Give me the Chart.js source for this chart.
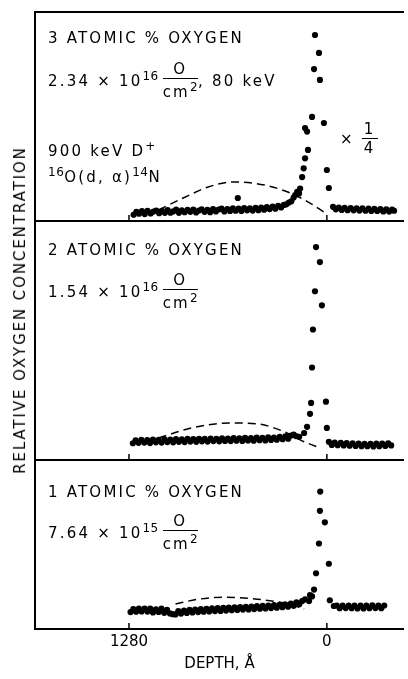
<!DOCTYPE html>
<html>
<head>
<meta charset="utf-8">
<script src="https://cdn.jsdelivr.net/npm/chart.js@4.4.1/dist/chart.umd.min.js"></script>
<style>
body { margin: 0; background: #fff; }
#fig { position: relative; width: 408px; height: 679px; overflow: hidden; font-family: 'DejaVu Sans', sans-serif; color: #000; }
#fig canvas { position: absolute; left: 0; }
.lbl { position: absolute; white-space: nowrap; font-size: 15px; letter-spacing: 2.2px; line-height: 1; }
.frac { display: inline-block; vertical-align: middle; text-align: center; margin-left: 4px; }
.frac .num { display: block; border-bottom: 1.4px solid #000; padding: 0 2px 1px; }
.frac .den { display: block; padding-top: 2px; }
sup { font-size: 12px; vertical-align: 6px; letter-spacing: 0.5px; }
#ytitle { position: absolute; left: 20px; top: 310px; transform: translate(-50%, -50%) rotate(-90deg); white-space: nowrap; font-size: 15px; letter-spacing: 1.9px; }
</style>
</head>
<body>
<div id="fig">
  <canvas id="p1" width="408"></canvas>
  <canvas id="p2" width="408"></canvas>
  <canvas id="p3" width="408"></canvas>

  <div class="lbl" style="left:48px;top:31px">3 ATOMIC % OXYGEN</div>
  <div class="lbl" style="left:48px;top:62px">2.34 × 10<sup>16</sup><span class="frac"><span class="num">O</span><span class="den">cm<sup>2</sup></span></span>, 80 keV</div>
  <div class="lbl" style="left:48px;top:140px">900 keV D<sup>+</sup></div>
  <div class="lbl" style="left:48px;top:166px"><sup>16</sup>O(d, α)<sup>14</sup>N</div>
  <div class="lbl" style="left:340px;top:122px">× <span class="frac" style="margin-left:0"><span class="num">1</span><span class="den">4</span></span></div>

  <div class="lbl" style="left:48px;top:243px">2 ATOMIC % OXYGEN</div>
  <div class="lbl" style="left:48px;top:273px">1.54 × 10<sup>16</sup><span class="frac"><span class="num">O</span><span class="den">cm<sup>2</sup></span></span></div>

  <div class="lbl" style="left:48px;top:485px">1 ATOMIC % OXYGEN</div>
  <div class="lbl" style="left:48px;top:514px">7.64 × 10<sup>15</sup><span class="frac"><span class="num">O</span><span class="den">cm<sup>2</sup></span></span></div>

  <div id="ytitle">RELATIVE OXYGEN CONCENTRATION</div>
</div>

<script>
// depth axis (angstrom), plotted right-to-left
const depthTicks = [1280, 0];

// 3 atomic % oxygen, 80 keV implant (peak region shown x 1/4)
const depth3 = [1250, 1232, 1215, 1196, 1178, 1160, 1140, 1122, 1104, 1085, 1066, 1048, 1030, 1012, 994, 975, 957, 938, 920, 901,
  883, 864, 846, 828, 810, 791, 773, 755, 736, 718, 700, 681, 663, 644, 626, 608, 590, 571, 553, 535, 516, 498, 480, 461, 443,
  425, 406, 388, 370, 351, 333, 315, 296, 278, 262, 246, 576,
  230, 215, 205, 192, 180, 173, 160, 150, 141, 122, 141, 128, 96, 77, 51, 83, 45, 19, 0, -13,
  -40, -58, -77, -96, -115, -134, -154, -173, -192, -211, -230, -250, -269, -288, -307, -326, -346, -365, -384, -403, -422, -435];
const conc3 = [3.0, 4.4, 3.5, 4.7, 3.3, 4.9, 3.6, 4.5, 5.0, 3.7, 4.8, 3.9, 5.2, 4.0, 4.6, 5.4, 3.9, 5.1, 4.2, 5.3,
  4.4, 5.5, 4.1, 5.0, 5.6, 4.4, 5.3, 4.2, 5.7, 4.6, 5.5, 5.9, 4.6, 5.7, 4.8, 6.0, 4.9, 5.9, 4.8, 6.2, 5.1, 6.1, 5.0, 6.3, 5.2,
  6.4, 5.4, 6.6, 5.7, 6.9, 5.9, 7.3, 6.5, 7.7, 8.0, 8.8, 11.0,
  9.4, 11.2, 12.4, 13.9, 13.2, 15.5, 21.0, 25.2, 30.0, 34.0, 44.5, 42.8, 49.8, 89.0, 80.4, 72.7, 67.5, 46.9, 24.4, 15.8,
  6.8, 5.6, 6.4, 5.3, 6.3, 5.2, 6.2, 5.1, 6.1, 5.0, 6.0, 4.9, 5.9, 4.8, 5.8, 4.8, 5.7, 4.6, 5.6, 4.5, 5.5, 4.9];
const fitDepth3 = [1088, 915, 768, 595, 403, 237, 109, 19];
const fitConc3 = [5.3, 11.5, 16.3, 18.7, 17.2, 13.4, 8.6, 4.3];

// 2 atomic % oxygen
const depth2 = [1255, 1237, 1218, 1200, 1181, 1162, 1144, 1125, 1106, 1088, 1069, 1050, 1032, 1013, 994, 976, 957, 938, 920, 901,
  883, 864, 845, 827, 808, 790, 771, 752, 734, 715, 696, 678, 659, 640, 622, 603, 585, 566, 547, 529, 510, 491, 473, 454, 435,
  417, 398, 380, 361, 342, 324, 305, 286, 268, 250, 232, 215, 200,
  179, 147, 128, 109, 102, 96, 90, 77, 70, 45, 32, 6, 0,
  -13, -32, -51, -70, -90, -109, -128, -147, -166, -186, -205, -224, -243, -262, -282, -301, -320, -339, -358, -378, -397, -416];
const conc2 = [7.0, 8.2, 7.2, 8.4, 7.3, 8.3, 7.1, 8.5, 7.4, 8.4, 7.3, 8.6, 7.5, 8.5, 7.4, 8.7, 7.6, 8.6, 7.5, 8.8,
  7.7, 8.7, 7.6, 8.9, 7.8, 8.8, 7.7, 9.0, 7.9, 8.9, 7.8, 9.1, 8.0, 9.0, 7.9, 9.2, 8.1, 9.1, 8.0, 9.3, 8.2, 9.2, 8.1, 9.4, 8.3,
  9.3, 8.2, 9.5, 8.4, 9.4, 8.5, 9.7, 8.7, 9.9, 8.9, 10.2, 10.6, 10.0,
  9.7, 11.3, 13.9, 19.3, 23.9, 38.7, 54.6, 70.6, 89.1, 82.8, 64.7, 24.4, 13.4,
  7.6, 6.3, 7.3, 6.2, 7.2, 6.1, 7.1, 6.0, 7.0, 5.9, 6.9, 5.8, 6.8, 5.8, 6.8, 5.7, 6.9, 5.8, 6.9, 5.9, 7.0, 6.1];
const fitDepth2 = [1088, 877, 621, 448, 275, 173, 64];
const fitConc2 = [9.2, 13.4, 15.5, 15.1, 11.8, 8.4, 5.5];

// 1 atomic % oxygen
const depth1 = [1270, 1252, 1234, 1216, 1198, 1179, 1161, 1143, 1125, 1106, 1088, 1070, 1052, 1034, 1015, 997, 979, 961, 943, 924,
  906, 888, 870, 852, 833, 815, 797, 779, 761, 743, 724, 706, 688, 670, 652, 634, 615, 597, 579, 561, 543, 524, 506, 488, 470,
  452, 433, 415, 397, 379, 361, 342, 324, 306, 288, 270, 251, 233, 215, 197, 179, 160,
  141, 115, 109, 96, 83, 70, 51, 45, 43, 13, -13, -19, -45,
  -64, -83, -102, -122, -141, -160, -179, -198, -218, -237, -256, -275, -294, -314, -333, -352, -371];
const conc1 = [10.0, 11.8, 10.2, 12.0, 10.4, 12.1, 10.3, 12.0, 9.8, 11.7, 10.1, 12.0, 9.6, 11.4, 9.2, 8.8, 8.6, 10.6, 9.1, 10.9,
  9.5, 11.3, 9.8, 11.5, 10.0, 11.8, 10.2, 11.9, 10.4, 12.2, 10.6, 12.3, 10.7, 12.5, 10.9, 12.6, 11.1, 12.8, 11.3, 13.0, 11.5, 13.1, 11.6, 13.3, 11.8,
  13.5, 12.0, 13.7, 12.2, 13.9, 12.4, 14.1, 12.6, 14.3, 12.9, 14.6, 13.2, 15.1, 13.7, 15.8, 14.6, 16.5,
  17.5, 16.5, 20.0, 19.3, 23.3, 33.0, 50.6, 69.9, 81.3, 63.1, 38.6, 17.0, 13.6,
  13.9, 12.3, 13.8, 12.4, 13.9, 12.3, 13.9, 12.2, 13.8, 12.2, 13.8, 12.3, 14.0, 12.4, 13.8, 12.3, 13.9];
const fitDepth1 = [979, 832, 659, 448, 275, 147];
const fitConc1 = [14.8, 17.6, 18.8, 17.6, 15.3, 11.9];

const pair = (xs, ys) => xs.map((x, i) => ({ x: x, y: ys[i] }));

// frame: left edge, bottom line, optional top line, and short upward ticks at 1280 and 0
const framePlugin = {
  id: 'frame',
  afterDraw(chart, args, opts) {
    const { ctx, chartArea: a, scales: { x } } = chart;
    ctx.save();
    ctx.strokeStyle = '#000';
    ctx.lineWidth = 2;
    ctx.beginPath();
    ctx.moveTo(a.left, a.top - (opts.top ? 1 : 4));
    ctx.lineTo(a.left, a.bottom);
    ctx.lineTo(a.right, a.bottom);
    if (opts.top) {
      ctx.moveTo(a.left - 1, a.top);
      ctx.lineTo(a.right, a.top);
    }
    ctx.stroke();
    ctx.lineWidth = 1.5;
    ctx.beginPath();
    depthTicks.forEach(d => {
      const px = x.getPixelForValue(d);
      ctx.moveTo(px, a.bottom);
      ctx.lineTo(px, a.bottom - 6);
    });
    ctx.stroke();
    ctx.restore();
  }
};

function makePanel(id, top, bottom, dots, fit, isFirst, isLast) {
  const canvas = document.getElementById(id);
  const pad = 4;
  canvas.style.top = (top - pad) + 'px';
  canvas.height = isLast ? 679 - (top - pad) : bottom - top + 2 * pad;

  return new Chart(canvas, {
    data: {
      datasets: [
        {
          type: 'scatter',
          data: dots,
          backgroundColor: '#000',
          borderWidth: 0,
          pointRadius: 3.1,
          clip: false
        },
        {
          type: 'line',
          data: fit,
          borderColor: '#000',
          borderWidth: 1.5,
          borderDash: [8, 5],
          pointRadius: 0,
          tension: 0.4,
          cubicInterpolationMode: 'monotone',
          fill: false,
          clip: false
        }
      ]
    },
    options: {
      responsive: false,
      animation: false,
      devicePixelRatio: 1,
      layout: { padding: { left: 35, right: 0, top: pad, bottom: isLast ? 0 : pad } },
      plugins: { legend: { display: false }, tooltip: { enabled: false }, frame: { top: isFirst } },
      scales: {
        x: {
          type: 'linear',
          reverse: true,
          min: -499,
          max: 1888,
          display: isLast,
          afterBuildTicks: scale => { scale.ticks = depthTicks.map(v => ({ value: v })); },
          grid: { display: false, drawTicks: false },
          border: { display: false },
          ticks: { color: '#000', font: { family: 'DejaVu Sans', size: 15 }, padding: 4, maxRotation: 0, callback: v => String(v) },
          title: { display: true, text: 'DEPTH, Å', color: '#000', font: { family: 'DejaVu Sans', size: 15 }, padding: { top: 0, bottom: 6 } }
        },
        y: { min: 0, max: 100, display: false }
      }
    },
    plugins: [framePlugin]
  });
}

makePanel('p1', 12, 221, pair(depth3, conc3), pair(fitDepth3, fitConc3), true, false);
makePanel('p2', 221, 460, pair(depth2, conc2), pair(fitDepth2, fitConc2), false, false);
makePanel('p3', 460, 636, pair(depth1, conc1), pair(fitDepth1, fitConc1), false, true);
</script>
</body>
</html>
